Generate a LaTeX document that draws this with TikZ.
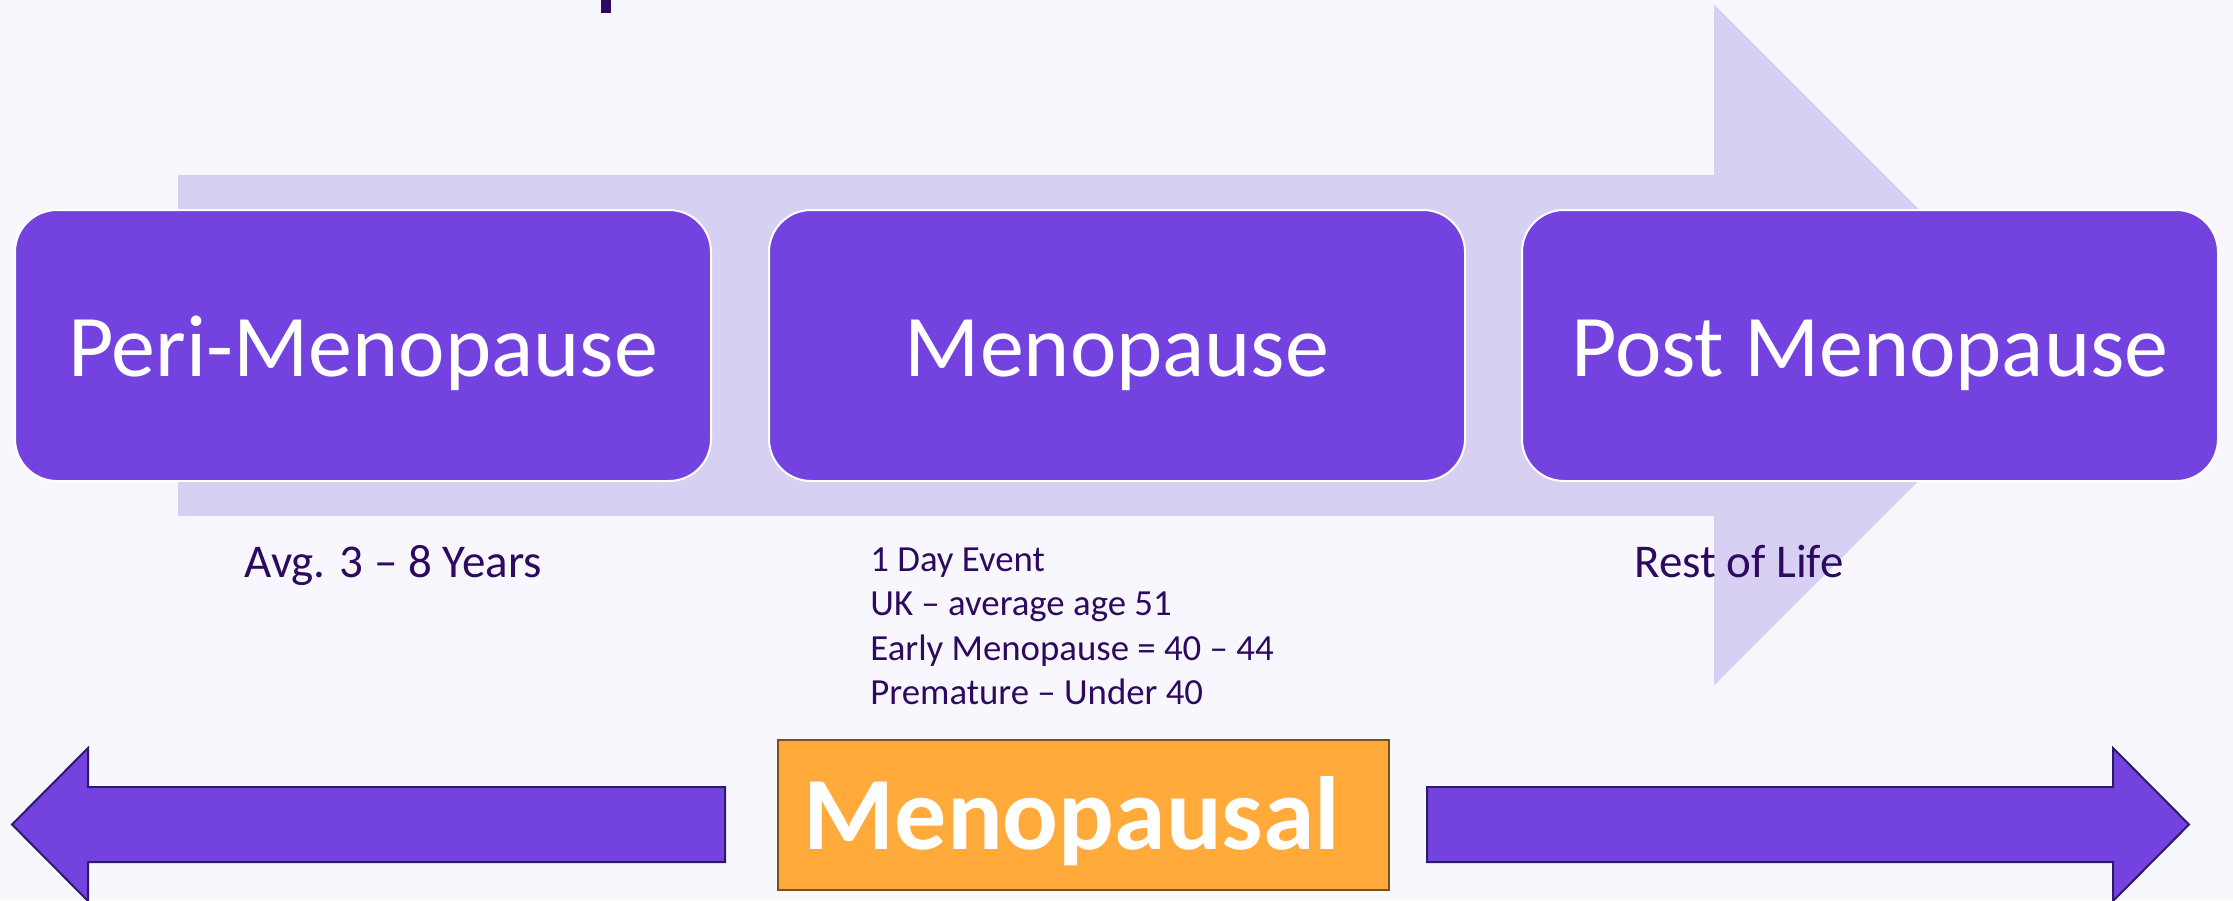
\documentclass[tikz,border=0pt]{standalone}
\usepackage{fontspec}
\setmainfont{Carlito}
\definecolor{bgc}{RGB}{249,247,254}
\definecolor{arrowlight}{RGB}{215,208,242}
\definecolor{boxpurple}{RGB}{116,67,223}
\definecolor{darktext}{RGB}{45,10,95}
\definecolor{edgepurple}{RGB}{46,26,107}
\definecolor{orangefill}{RGB}{255,170,58}
\definecolor{orangeedge}{RGB}{122,80,32}
\tikzset{
  stagebox/.style={draw=white, line width=1pt, fill=boxpurple, rounded corners=21pt,
    minimum width=348pt, minimum height=135.5pt, inner sep=0pt},
  stagetext/.style={text=white, font=\fontsize{44}{52}\selectfont, inner sep=0pt, anchor=base},
  sublabel/.style={text=darktext, font=\fontsize{23.5}{28}\selectfont, inner sep=0pt, anchor=base},
  detail/.style={text=darktext, font=\fontsize{18.4}{22}\selectfont, inner sep=0pt, anchor=base west},
  bigarrow/.style={fill=boxpurple, draw=edgepurple, line width=1pt, line join=miter},
}
\begin{document}
\begin{tikzpicture}[x=0.5pt, y=-0.5pt]
\useasboundingbox (0,0) rectangle (2233,900);
\fill[bgc] (0,0) rectangle (2233,900);
% title fragment
\fill[darktext] (601,0) rectangle (611,13);
% big background arrow
\fill[arrowlight] (178,175) -- (1714,175) -- (1714,4.5) -- (2054.5,345) -- (1714,685.5) -- (1714,516) -- (178,516) -- cycle;
% stage boxes
\node[stagebox] (peri) at (363,345.5) {};
\node[stagebox] (meno) at (1117,345.5) {};
\node[stagebox] (post) at (1870,345.5) {};
\node[stagetext] (peritext) at ([yshift=-15.5pt]peri.center) {Peri-Menopause};
\node[stagetext] (menotext) at ([yshift=-15.5pt]meno.center) {Menopause};
\node[stagetext] (posttext) at ([yshift=-15.5pt]post.center) {Post Menopause};
% labels
\node[sublabel] (avg) at (393.5,577) {Avg. 3 – 8 Years};
\node[sublabel] (rest) at (1739,577) {Rest of Life};
\node[detail] (d1) at (870,571) {1 Day Event};
\node[detail] (d2) at (870,615.5) {UK – average age 51};
\node[detail] (d3) at (870,660) {Early Menopause = 40 – 44};
\node[detail] (d4) at (870,704) {Premature – Under 40};
% bottom arrows
\draw[bigarrow] (725,787) -- (88,787) -- (88,748) -- (12,824.5) -- (88,901) -- (88,862) -- (725,862) -- cycle;
\draw[bigarrow] (1427,787) -- (2113,787) -- (2113,748) -- (2189,824.5) -- (2113,901) -- (2113,862) -- (1427,862) -- cycle;
% menopausal box
\node[draw=orangeedge, line width=1pt, fill=orangefill, minimum width=305.5pt, minimum height=75pt, inner sep=0pt, anchor=north west] (mbox) at (777,739) {};
\node[text=white, font=\bfseries\fontsize{52}{60}\selectfont, inner sep=0pt, anchor=base] (mtext) at (1072,849) {Menopausal};
\end{tikzpicture}
\end{document}
